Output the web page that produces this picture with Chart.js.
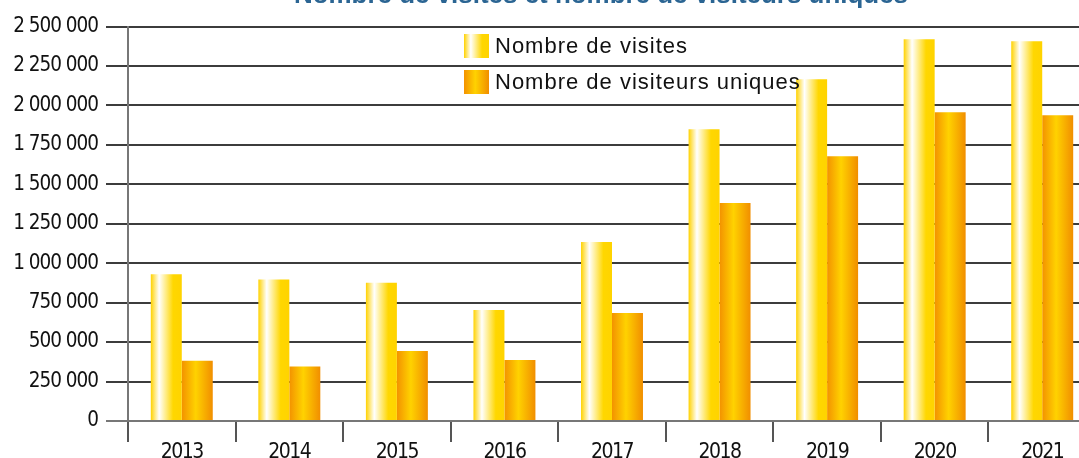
<!DOCTYPE html>
<html>
<head>
<meta charset="utf-8">
<script src="https://cdn.jsdelivr.net/npm/chart.js@4.4.1/dist/chart.umd.min.js"></script>
<style>
  html, body { margin: 0; padding: 0; background: #fff; overflow: hidden; width: 1079px; height: 458px; }
  #wrap { position: absolute; left: 0; top: 0; width: 1096px; height: 458px; }
</style>
</head>
<body>
<div id="wrap"><canvas id="c" width="1096" height="458"></canvas></div>
<script>
const chartTitle = 'Nombre de visites et nombre de visiteurs uniques';
const categories = ['2013', '2014', '2015', '2016', '2017', '2018', '2019', '2020', '2021'];
const seriesNames = ['Nombre de visites', 'Nombre de visiteurs uniques'];
const visites = [930000, 897000, 876000, 703000, 1134000, 1849000, 2166000, 2419000, 2407000];
const visiteursUniques = [382000, 345000, 443000, 386000, 684000, 1381000, 1678000, 1957000, 1938000];
const yTickValues = [0, 250000, 500000, 750000, 1000000, 1250000, 1500000, 1750000, 2000000, 2250000, 2500000];

const NARROW = "'DejaVu Sans Condensed', 'DejaVu Sans', sans-serif";
const CAT_PCT = 0.576;

function visitsGradient(ctx2d, x0, x1) {
  const g = ctx2d.createLinearGradient(x0, 0, x1, 0);
  g.addColorStop(0, '#FFD200');
  g.addColorStop(0.27, '#FFFFFF');
  g.addColorStop(0.72, '#FFD700');
  g.addColorStop(1, '#FFD300');
  return g;
}
function uniqueGradient(ctx2d, x0, x1) {
  const g = ctx2d.createLinearGradient(x0, 0, x1, 0);
  g.addColorStop(0, '#F39200');
  g.addColorStop(0.45, '#FFD200');
  g.addColorStop(1, '#F18E00');
  return g;
}

function barColor(which) {
  return function (ctx) {
    const chart = ctx.chart;
    const xs = chart.scales && chart.scales.x;
    if (!chart.chartArea || !xs || ctx.type !== 'data') return which === 0 ? '#FFD700' : '#F6A800';
    const c = xs.getPixelForValue(ctx.dataIndex);
    const bw = (xs.width / categories.length) * CAT_PCT / 2;
    if (which === 0) return visitsGradient(chart.ctx, c - bw, c);
    return uniqueGradient(chart.ctx, c, c + bw);
  };
}

function fmt(v) {
  return String(v).replace(/\B(?=(\d{3})+(?!\d))/g, ' ');
}

function withSpacing(scale, spacing) {
  if (scale._spacingWrapped) return;
  const orig = scale.drawLabels.bind(scale);
  scale.drawLabels = function (ca) {
    const ctx = this.ctx;
    ctx.save();
    try { ctx.letterSpacing = spacing; } catch (e) {}
    orig(ca);
    ctx.restore();
  };
  scale._spacingWrapped = true;
}

const overlayPlugin = {
  id: 'overlay',
  afterDatasetsDraw(chart) {
    const ctx = chart.ctx;
    ctx.save();
    // legend
    const lx = 464, ly = [34, 70], bw = 25, bh = 24;
    ctx.font = "22px 'Liberation Sans', Arial, sans-serif";
    try { ctx.letterSpacing = '1px'; } catch (e) {}
    ctx.textBaseline = 'middle';
    ctx.textAlign = 'left';
    chart.data.datasets.forEach((ds, i) => {
      ctx.fillStyle = i === 0 ? visitsGradient(ctx, lx, lx + bw) : uniqueGradient(ctx, lx, lx + bw);
      ctx.fillRect(lx, ly[i], bw, bh);
      ctx.fillStyle = '#111';
      ctx.fillText(ds.label, 495, ly[i] + bh / 2 + 1);
    });
    try { ctx.letterSpacing = '0px'; } catch (e) {}
    // title (cut off at top as in source)
    ctx.font = "bold 24px 'Liberation Sans', Arial, sans-serif";
    const w = ctx.measureText(chartTitle).width;
    const size = 24 * 614 / w;
    ctx.font = "bold " + size.toFixed(2) + "px 'Liberation Sans', Arial, sans-serif";
    ctx.fillStyle = '#2B6593';
    ctx.textAlign = 'center';
    ctx.textBaseline = 'alphabetic';
    ctx.fillText(chartTitle, 601, 2.5);
    ctx.restore();
  }
};

new Chart(document.getElementById('c'), {
  type: 'bar',
  data: {
    labels: categories,
    datasets: [
      { label: seriesNames[0], data: visites, backgroundColor: barColor(0), borderWidth: 0 },
      { label: seriesNames[1], data: visiteursUniques, backgroundColor: barColor(1), borderWidth: 0 }
    ]
  },
  options: {
    responsive: false,
    animation: false,
    devicePixelRatio: 1,
    layout: { padding: { top: 26.5, left: 0, right: 0, bottom: 0 } },
    datasets: { bar: { barPercentage: 1, categoryPercentage: CAT_PCT } },
    plugins: { legend: { display: false }, title: { display: false }, tooltip: { enabled: false } },
    scales: {
      x: {
        offset: true,
        afterFit(s) { s.height = 37; withSpacing(s, '-1.5px'); },
        grid: { offset: true, drawOnChartArea: false, drawTicks: true, tickLength: 21, color: '#555', lineWidth: 2 },
        border: { display: true, color: '#777', width: 2 },
        ticks: { color: '#111', font: { family: NARROW, size: 21 }, padding: -2, maxRotation: 0 }
      },
      y: {
        min: 0,
        max: 2500000,
        afterFit(s) { s.width = 128; withSpacing(s, '-1px'); },
        afterBuildTicks(s) { s.ticks = yTickValues.map(v => ({ value: v })); },
        grid: {
          drawTicks: true, tickLength: 22, lineWidth: 2,
          color: (c) => (c.tick && c.tick.value === 0) ? '#777' : '#3c3c3c'
        },
        border: { display: true, color: '#777', width: 2 },
        ticks: { color: '#111', font: { family: NARROW, size: 20.5 }, padding: 8, callback: (v) => fmt(v) }
      }
    }
  },
  plugins: [overlayPlugin]
});
</script>
</body>
</html>
